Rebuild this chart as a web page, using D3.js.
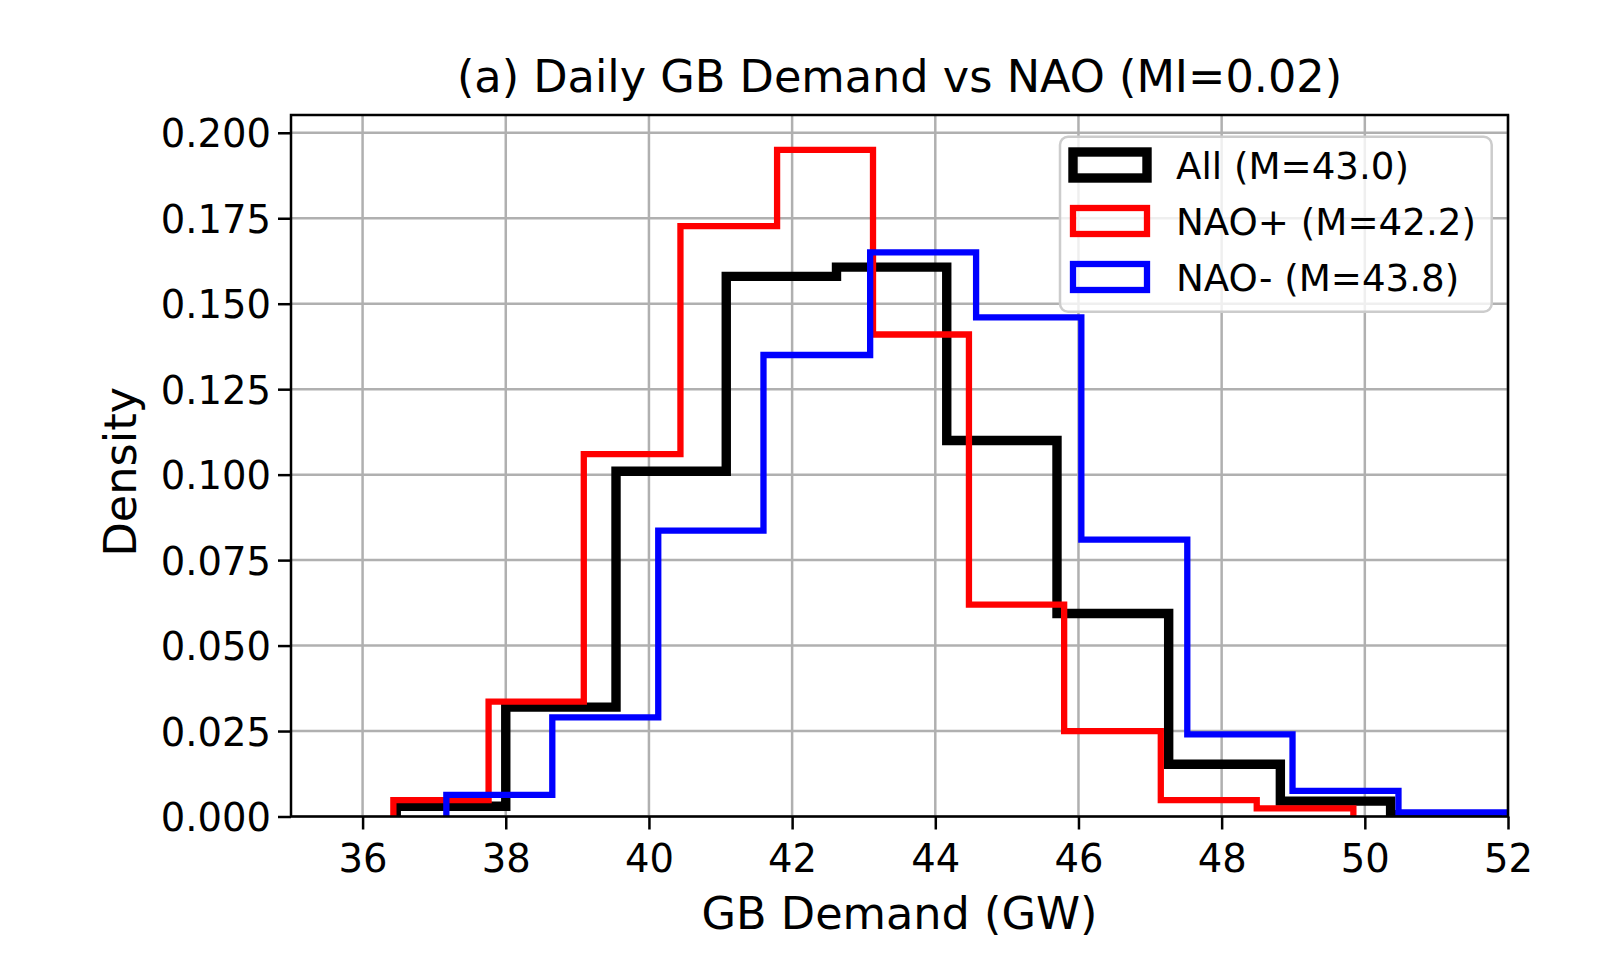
<!DOCTYPE html>
<html>
<head>
<meta charset="utf-8">
<script src="https://cdn.jsdelivr.net/npm/d3@7"></script>
<style>
  body { margin: 0; background: #fff; }
  svg { font-family: "DejaVu Sans", sans-serif; }
</style>
</head>
<body>
<svg id="chart" width="1608" height="968"></svg>
<script>
// bin edges and densities
const allEdges = [36.47, 38.0, 39.54, 41.08, 42.62, 44.16, 45.7, 47.26, 48.82, 50.36, 51.96];
const allDensity = [0.003, 0.032, 0.101, 0.158, 0.1607, 0.110, 0.0594, 0.0153, 0.0045, 0.0005];

const posEdges = [36.43, 37.76, 39.09, 40.44, 41.79, 43.13, 44.47, 45.80, 47.15, 48.49, 49.84];
const posDensity = [0.0048, 0.0336, 0.106, 0.1727, 0.195, 0.141, 0.062, 0.025, 0.0048, 0.0024];

const negEdges = [37.17, 38.65, 40.13, 41.60, 43.09, 44.57, 46.04, 47.52, 48.99, 50.47, 51.96];
const negDensity = [0.0063, 0.029, 0.0836, 0.135, 0.165, 0.146, 0.081, 0.024, 0.0075, 0.0012];

const xTicks = [36, 38, 40, 42, 44, 46, 48, 50, 52];
const yTicks = [0, 0.025, 0.05, 0.075, 0.1, 0.125, 0.15, 0.175, 0.2];

const series = [
  { label: "All (M=43.0)", edges: allEdges, dens: allDensity, color: "#000000", lw: 9.4 },
  { label: "NAO+ (M=42.2)", edges: posEdges, dens: posDensity, color: "#ff0000", lw: 6.3 },
  { label: "NAO- (M=43.8)", edges: negEdges, dens: negDensity, color: "#0000ff", lw: 6.3 }
];

const margin = { left: 291, right: 100, top: 115, bottom: 151.5 };
const W = 1608, H = 968;

const svg = d3.select("#chart");

const x = d3.scaleLinear().domain([35, 52]).range([margin.left, W - margin.right]);
const y = d3.scaleLinear().domain([0, 0.2052]).range([H - margin.bottom, margin.top]);

svg.append("defs").append("clipPath").attr("id", "plotclip")
  .append("rect")
  .attr("x", x(35)).attr("y", y(0.2052))
  .attr("width", x(52) - x(35)).attr("height", y(0) - y(0.2052));

// grid
const grid = svg.append("g").attr("stroke", "#b0b0b0").attr("stroke-width", 2.5);
grid.selectAll(".gx").data(xTicks).join("line")
  .attr("x1", d => x(d)).attr("x2", d => x(d))
  .attr("y1", y(0)).attr("y2", y(0.2052));
grid.selectAll(".gy").data(yTicks).join("line")
  .attr("y1", d => y(d)).attr("y2", d => y(d))
  .attr("x1", x(35)).attr("x2", x(52));

// step histograms
const stepPoints = (edges, dens) => {
  const pts = [[edges[0], 0]];
  dens.forEach((v, i) => {
    pts.push([edges[i], v]);
    pts.push([edges[i + 1], v]);
  });
  pts.push([edges[edges.length - 1], 0]);
  return pts;
};

const line = d3.line().x(d => x(d[0])).y(d => y(d[1]));

svg.append("g").attr("clip-path", "url(#plotclip)")
  .selectAll("path").data(series).join("path")
  .attr("d", s => line(stepPoints(s.edges, s.dens)))
  .attr("fill", "none")
  .attr("stroke", s => s.color)
  .attr("stroke-width", s => s.lw)
  .attr("stroke-linejoin", "miter");

// axes
const xAxis = svg.append("g")
  .attr("transform", `translate(0,${y(0)})`)
  .call(d3.axisBottom(x).tickValues(xTicks).tickSize(13).tickPadding(13).tickFormat(d3.format("d")));
const yAxis = svg.append("g")
  .attr("transform", `translate(${x(35)},0)`)
  .call(d3.axisLeft(y).tickValues(yTicks).tickSize(13).tickPadding(7).tickFormat(d3.format(".3f")));

[xAxis, yAxis].forEach(g => {
  g.select(".domain").remove();
  g.selectAll(".tick line").attr("stroke", "#000").attr("stroke-width", 2.5);
  g.selectAll(".tick text").attr("fill", "#000").style("font-size", "38.5px")
    .style("font-family", "DejaVu Sans");
});
xAxis.selectAll(".tick text").attr("dy", null).attr("y", 55.5);
yAxis.selectAll(".tick text").attr("dy", "0.3645em");

// frame
svg.append("rect")
  .attr("x", x(35)).attr("y", y(0.2052))
  .attr("width", x(52) - x(35)).attr("height", y(0) - y(0.2052))
  .attr("fill", "none").attr("stroke", "#000").attr("stroke-width", 2.5);

// titles
svg.append("text")
  .attr("x", (x(35) + x(52)) / 2).attr("y", 92)
  .attr("text-anchor", "middle").style("font-size", "44.6px")
  .text("(a) Daily GB Demand vs NAO (MI=0.02)");

svg.append("text")
  .attr("x", (x(35) + x(52)) / 2).attr("y", 929)
  .attr("text-anchor", "middle").style("font-size", "44.6px")
  .text("GB Demand (GW)");

svg.append("text")
  .attr("transform", `translate(136,${(y(0) + y(0.2052)) / 2 + 6}) rotate(-90)`)
  .attr("text-anchor", "middle").style("font-size", "44.6px")
  .text("Density");

// legend
const legend = svg.append("g");
legend.append("rect")
  .attr("x", 1060).attr("y", 136.7).attr("width", 431.7).attr("height", 175)
  .attr("rx", 8).attr("fill", "#fff").attr("fill-opacity", 0.8)
  .attr("stroke", "#cccccc").attr("stroke-width", 2.5);

const rows = legend.selectAll(".row").data(series).join("g")
  .attr("transform", (d, i) => `translate(0,${165 + i * 56})`);
rows.append("rect")
  .attr("x", 1073).attr("y", -13).attr("width", 74).attr("height", 26)
  .attr("fill", "none")
  .attr("stroke", d => d.color).attr("stroke-width", d => d.lw);
rows.append("text")
  .attr("x", 1176).attr("dy", "0.3645em")
  .style("font-size", "37.2px")
  .text(d => d.label);
</script>
</body>
</html>
